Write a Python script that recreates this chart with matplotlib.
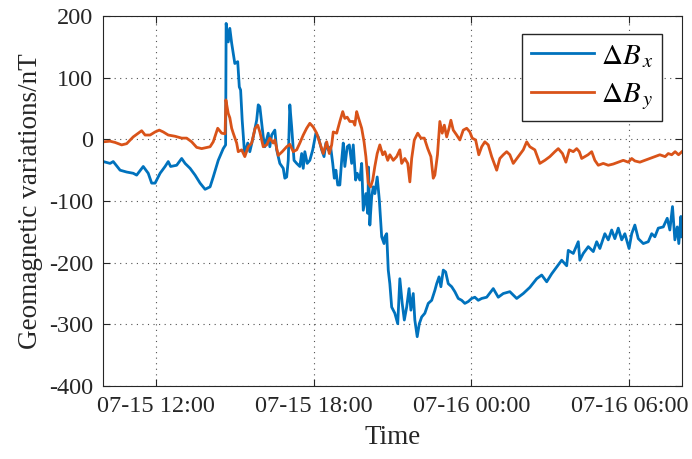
import matplotlib
matplotlib.use("Agg")
import matplotlib.pyplot as plt
import matplotlib.dates as mdates
import pandas as pd

# Hours elapsed since 07-15 10:00 and field variations (nT)
bx_hours = [0.01, 0.27, 0.39, 0.65, 0.90, 1.15, 1.28, 1.53, 1.72, 1.85, 1.98, 2.17, 2.36, 2.48,
            2.57, 2.80, 2.99, 3.12, 3.31, 3.50, 3.69, 3.88, 4.07, 4.19, 4.38, 4.57, 4.66, 4.68,
            4.76, 4.82, 4.89, 5.01, 5.12, 5.18, 5.23, 5.29, 5.37, 5.39, 5.50, 5.58, 5.71, 5.84,
            5.90, 5.96, 6.09, 6.15, 6.28, 6.34, 6.41, 6.53, 6.60, 6.72, 6.85, 6.91, 6.98, 7.04,
            7.10, 7.17, 7.26, 7.36, 7.48, 7.55, 7.61, 7.67, 7.76, 7.86, 7.97, 8.09, 8.18, 8.31,
            8.40, 8.47, 8.56, 8.65, 8.73, 8.79, 8.85, 8.92, 9.00, 9.07, 9.13, 9.19, 9.28, 9.36,
            9.45, 9.51, 9.60, 9.66, 9.76, 9.83, 9.89, 9.99, 10.06, 10.09, 10.14, 10.21, 10.27,
            10.33, 10.42, 10.50, 10.59, 10.68, 10.71, 10.78, 10.84, 10.90, 10.97, 11.09, 11.20,
            11.28, 11.37, 11.45, 11.54, 11.63, 11.70, 11.79, 11.85, 11.94, 12.02, 12.11, 12.23,
            12.36, 12.49, 12.61, 12.68, 12.77, 12.84, 12.93, 13.02, 13.12, 13.25, 13.37, 13.50,
            13.63, 13.75, 13.88, 14.01, 14.13, 14.26, 14.39, 14.58, 14.83, 15.02, 15.21, 15.46,
            15.72, 15.97, 16.22, 16.48, 16.67, 16.86, 17.05, 17.24, 17.43, 17.62, 17.68, 17.87,
            18.06, 18.12, 18.25, 18.44, 18.63, 18.76, 18.88, 19.07, 19.20, 19.33, 19.45, 19.58,
            19.71, 19.83, 19.99, 20.09, 20.21, 20.34, 20.53, 20.72, 20.85, 20.97, 21.10, 21.29,
            21.44, 21.54, 21.64, 21.73, 21.82, 21.88, 21.96, 22.00]
bx_values = [-36, -39, -36, -50, -53, -55, -58, -44, -55, -71, -71, -55, -44, -36,
             -44, -42, -31, -39, -47, -58, -71, -81, -77, -61, -34, -15, -9, 188,
             158, 180, 156, 123, 126, 85, 80, 31, -17, -23, -6, -20, 4, 31,
             56, 53, 4, -12, 10, -12, 7, 15, -17, -39, -47, -63, -61, -34,
             56, 20, -34, -39, -44, -23, -47, -20, -39, -34, -17, 10, 4, -17,
             -28, -6, -17, -12, -39, -63, -50, -74, -74, -34, -6, -44, -12, -9,
             -39, -9, -66, -55, -66, -39, -115, -88, -120, -45, -139, -93, -77,
             -88, -61, -98, -158, -169, -158, -153, -212, -234, -272, -282, -299,
             -226, -266, -293, -272, -242, -277, -250, -293, -320, -299, -288, -282,
             -266, -261, -245, -234, -223, -239, -212, -215, -234, -239, -247, -258,
             -261, -266, -263, -258, -256, -261, -258, -256, -242, -256, -250, -247,
             -258, -250, -240, -226, -220, -231, -218, -207, -196, -205, -180, -185,
             -166, -196, -185, -174, -182, -166, -177, -153, -163, -147, -161, -144,
             -163, -153, -177, -153, -139, -161, -169, -166, -153, -158, -144, -142,
             -128, -147, -109, -163, -142, -169, -125, -158]

by_hours = [0.01, 0.27, 0.46, 0.71, 0.90, 1.15, 1.34, 1.47, 1.60, 1.79, 1.98, 2.14, 2.29, 2.48,
            2.74, 2.99, 3.18, 3.37, 3.56, 3.75, 4.07, 4.19, 4.36, 4.51, 4.64, 4.67, 4.76, 4.82,
            4.89, 4.95, 5.08, 5.14, 5.27, 5.39, 5.52, 5.65, 5.78, 5.88, 5.96, 6.09, 6.22, 6.34,
            6.47, 6.53, 6.66, 6.81, 6.98, 7.10, 7.23, 7.36, 7.48, 7.61, 7.74, 7.86, 7.99, 8.12,
            8.24, 8.37, 8.50, 8.60, 8.69, 8.75, 8.88, 9.00, 9.11, 9.19, 9.28, 9.38, 9.51, 9.57,
            9.64, 9.70, 9.83, 9.92, 9.99, 10.08, 10.17, 10.25, 10.33, 10.42, 10.52, 10.63, 10.71,
            10.82, 10.90, 11.03, 11.16, 11.28, 11.35, 11.47, 11.58, 11.66, 11.73, 11.83, 11.96,
            12.08, 12.21, 12.34, 12.46, 12.55, 12.61, 12.71, 12.80, 12.89, 12.97, 13.06, 13.15,
            13.22, 13.31, 13.44, 13.56, 13.69, 13.82, 13.94, 14.03, 14.16, 14.28, 14.39, 14.51,
            14.64, 14.77, 14.96, 15.08, 15.21, 15.34, 15.46, 15.59, 15.78, 15.97, 16.10, 16.22,
            16.41, 16.60, 16.79, 16.98, 17.17, 17.30, 17.46, 17.59, 17.72, 17.87, 18.00, 18.10,
            18.19, 18.31, 18.43, 18.57, 18.69, 18.82, 19.01, 19.20, 19.39, 19.58, 19.77, 19.96,
            20.09, 20.21, 20.40, 20.59, 20.78, 20.97, 21.16, 21.36, 21.48, 21.61, 21.74, 21.87,
            22.00]
by_values = [-4, -3, -5, -9, -7, 4, 10, 14, 7, 7, 12, 15, 12, 7,
             5, 2, 2, -4, -13, -15, -12, -4, 18, 10, 9, 64, 42, 35,
             18, 10, -6, -20, -17, -28, -12, -6, 18, 23, 12, -12, -9, 2,
             -6, -1, -26, -20, -12, -8, -20, -17, -6, 7, 18, 26, 20, 10,
             -6, -23, -4, -23, -9, 12, 10, 29, 45, 34, 36, 29, 29, 23,
             45, 36, 18, -4, -28, -71, -77, -66, -44, -23, -9, -25, -20,
             -34, -25, -34, -28, -17, -39, -31, -39, -69, -31, -1, 10,
             2, 2, -15, -28, -63, -58, -25, 29, 10, 23, 4, 18,
             31, 15, 7, -1, 15, 18, 12, 2, -1, -25, -12, -4,
             -9, -28, -50, -31, -25, -20, -25, -39, -28, -17, -4, -12,
             -17, -39, -34, -28, -20, -15, -23, -37, -17, -20, -15, -20,
             -31, -28, -25, -20, -34, -42, -39, -42, -40, -37, -34, -37,
             -31, -35, -37, -34, -31, -28, -25, -28, -23, -25, -20, -25,
             -20]

series_labels = [r'$\Delta B_{\,x}$', r'$\Delta B_{\,y}$']
y_ticks = [-400, -300, -200, -100, 0, 100, 200]

start = pd.Timestamp('2021-07-15 10:00')
end = pd.Timestamp('2021-07-16 08:00')
tick_times = [pd.Timestamp('2021-07-15 12:00'), pd.Timestamp('2021-07-15 18:00'),
              pd.Timestamp('2021-07-16 00:00'), pd.Timestamp('2021-07-16 06:00')]

bx_t = start + pd.to_timedelta(bx_hours, unit='h')
by_t = start + pd.to_timedelta(by_hours, unit='h')

plt.rcParams['font.family'] = ['Liberation Serif', 'DejaVu Serif']
plt.rcParams['mathtext.fontset'] = 'stix'
plt.rcParams['axes.unicode_minus'] = False

fig = plt.figure(figsize=(6.92, 4.59), dpi=100)
ax = fig.add_axes([0.1488, 0.159, 0.8367, 0.8061])

ax.plot(bx_t, bx_values, color='#0072BD', lw=2.0, label=series_labels[0])
ax.plot(by_t, by_values, color='#D95319', lw=2.0, label=series_labels[1])

ax.set_xlim(start, end)
ax.set_ylim(-400, 200)
ax.set_yticks(y_ticks)
ax.set_xticks(tick_times)
ax.xaxis.set_major_formatter(mdates.DateFormatter('%m-%d %H:%M'))

ax.grid(True, color='#262626', linestyle=(0, (1, 4)), lw=0.8, alpha=0.8)
ax.tick_params(direction='in', length=5, width=0.8, top=True, right=True,
               labelsize=17.5, colors='#262626', labelcolor='#262626', pad=7)
for s in ax.spines.values():
    s.set_color('#262626')
    s.set_linewidth(0.8)

ax.set_xlabel('Time', fontsize=19.5, color='#262626', labelpad=6)
ax.set_ylabel('Geomagnetic variations/nT', fontsize=19.5, color='#262626', labelpad=4)

leg = ax.legend(loc='upper right', bbox_to_anchor=(0.9655, 0.9514), borderaxespad=0,
                fancybox=False, framealpha=1, edgecolor='#262626', fontsize=21,
                handlelength=2.15, handletextpad=0.25, borderpad=0.3, labelspacing=0.4)
leg.get_frame().set_linewidth(1.0)

fig.savefig('out.png', dpi=100)
